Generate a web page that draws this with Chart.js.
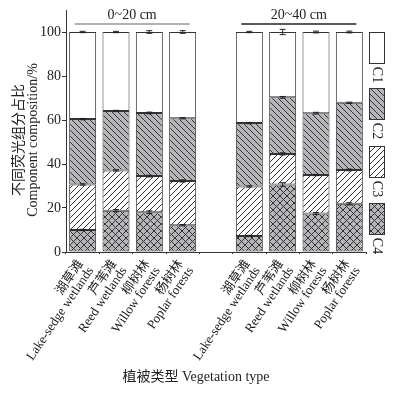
<!DOCTYPE html>
<html>
<head>
<meta charset="utf-8">
<script src="https://cdn.jsdelivr.net/npm/chart.js@4.4.0/dist/chart.umd.min.js"></script>
<style>
  html, body { margin: 0; padding: 0; background: #fff; }
</style>
</head>
<body>
<canvas id="chart" width="405" height="393"></canvas>
<script>
// ==============================
// DATA
// ==============================
const categories = [
  ["湖草滩", "Lake-sedge wetlands"],
  ["芦苇滩", "Reed wetlands"],
  ["柳树林", "Willow forests"],
  ["杨树林", "Poplar forests"],
  "",
  ["湖草滩", "Lake-sedge wetlands"],
  ["芦苇滩", "Reed wetlands"],
  ["柳树林", "Willow forests"],
  ["杨树林", "Poplar forests"]
];

const depthGroups = ["0~20 cm", "20~40 cm"];
const seriesNames = ["C1", "C2", "C3", "C4"];

// stacked from bottom: C4, C3, C2, C1 (%)
const c4 = [10.0, 18.8, 18.1, 12.2, null, 7.3, 30.7, 17.5, 21.9];
const c3 = [20.7, 18.3, 16.4, 20.1, null, 22.5, 13.9, 17.5, 15.4];
const c2 = [29.7, 27.0, 28.7, 28.5, null, 28.8, 25.7, 28.1, 30.5];
const c1 = [39.6, 35.9, 36.8, 39.2, null, 41.4, 29.7, 36.9, 32.2];

// standard errors at the top of each segment
const errC4 = [0.3, 0.5, 0.6, 0.3, null, 0.3, 0.8, 0.4, 0.5];
const errC3 = [0.3, 0.3, 0.4, 0.5, null, 0.3, 0.5, 0.3, 0.4];
const errC2 = [0.3, 0.3, 0.4, 0.3, null, 0.3, 0.4, 0.4, 0.3];
const errC1 = [0.3, 0.3, 0.6, 0.6, null, 0.3, 1.2, 0.4, 0.4];

const yTicks = [0, 20, 40, 60, 80, 100];

// ==============================
// PATTERNS
// ==============================
const GRAY = "#b7b5ba";
const INK = "#333";

function makePattern(bg, dirs, size) {
  const c = document.createElement("canvas");
  c.width = c.height = size;
  const g = c.getContext("2d");
  g.fillStyle = bg;
  g.fillRect(0, 0, size, size);
  g.strokeStyle = INK;
  g.lineWidth = 1;
  dirs.forEach(d => {
    g.beginPath();
    [-size, 0, size].forEach(k => {
      if (d === "back") { g.moveTo(k, 0); g.lineTo(k + size, size); }
      else { g.moveTo(k, size); g.lineTo(k + size, 0); }
    });
    g.stroke();
  });
  return c;
}

const ctx = document.getElementById("chart").getContext("2d");
const fills = {
  C1: "#fff",
  C2: ctx.createPattern(makePattern(GRAY, ["back"], 6), "repeat"),
  C3: ctx.createPattern(makePattern("#fff", ["fwd"], 6), "repeat"),
  C4: ctx.createPattern(makePattern(GRAY, ["back", "fwd"], 7), "repeat")
};

// ==============================
// PLUGINS
// ==============================
const errorBars = {
  id: "errorBars",
  afterDatasetsDraw(chart) {
    const y = chart.scales.y;
    const c = chart.ctx;
    c.save();
    c.strokeStyle = "#222";
    c.lineWidth = 1;
    chart.data.datasets.forEach((ds, d) => {
      const meta = chart.getDatasetMeta(d);
      meta.data.forEach((bar, i) => {
        if (ds.data[i] == null) return;
        let top = 0;
        for (let k = 0; k <= d; k++) top += chart.data.datasets[k].data[i];
        const e = ds.err[i];
        const yHi = y.getPixelForValue(top + e);
        const yLo = y.getPixelForValue(top - e);
        c.beginPath();
        c.moveTo(bar.x, yHi); c.lineTo(bar.x, yLo);
        c.moveTo(bar.x - 3, yHi); c.lineTo(bar.x + 3, yHi);
        c.moveTo(bar.x - 3, yLo); c.lineTo(bar.x + 3, yLo);
        c.stroke();
      });
    });
    c.restore();
  }
};

const decorations = {
  id: "decorations",
  afterDraw(chart) {
    const c = chart.ctx;
    const x = chart.scales.x;
    const area = chart.chartArea;
    c.save();
    c.fillStyle = "#222";
    c.textAlign = "center";
    c.textBaseline = "middle";

    // depth group headers
    c.font = "14px 'Liberation Serif', serif";
    [[0, 3, "#999"], [5, 8, "#222"]].forEach(([a, b, col], gi) => {
      const x0 = x.getPixelForValue(a) - 8;
      const x1 = x.getPixelForValue(b) + 7;
      c.fillText(depthGroups[gi], (x0 + x1) / 2, 15);
      c.strokeStyle = col;
      c.lineWidth = 1.5;
      c.beginPath(); c.moveTo(x0, 24); c.lineTo(x1, 24); c.stroke();
    });

    // y title
    c.save();
    c.translate(18, 140);
    c.rotate(-Math.PI / 2);
    c.font = "14px 'Noto Sans CJK SC', sans-serif";
    c.fillText("不同荧光组分占比", 0, 0);
    c.restore();
    c.save();
    c.translate(33, 140);
    c.rotate(-Math.PI / 2);
    c.font = "14px 'Liberation Serif', serif";
    c.fillText("Component composition/%", 0, 0);
    c.restore();

    // x title
    c.font = "14px 'Liberation Serif', 'Noto Sans CJK SC', serif";
    c.fillText("植被类型 Vegetation type", 196, 377);

    // legend
    const lx = area.right + 3;
    const boxes = [32, 88, 146, 203];
    seriesNames.forEach((name, i) => {
      c.fillStyle = fills[name];
      c.fillRect(lx, boxes[i], 15, 31);
      c.strokeStyle = INK;
      c.lineWidth = 1;
      c.strokeRect(lx + 0.5, boxes[i] + 0.5, 15, 31);
      c.save();
      c.translate(lx + 8, boxes[i] + 43);
      c.rotate(Math.PI / 2);
      c.fillStyle = "#222";
      c.font = "14px 'Liberation Serif', serif";
      c.fillText(name, 0, 0);
      c.restore();
    });
    c.restore();
  }
};

// ==============================
// CHART
// ==============================
Chart.defaults.font.family = "'Liberation Serif', 'Noto Sans CJK SC', serif";
Chart.defaults.color = "#222";

function ds(name, data, err) {
  return {
    label: name,
    data: data,
    err: err,
    backgroundColor: fills[name],
    borderColor: INK,
    borderWidth: 1,
    borderSkipped: false,
    barPercentage: 0.81,
    categoryPercentage: 1
  };
}

new Chart(ctx, {
  type: "bar",
  data: {
    labels: categories,
    datasets: [
      ds("C4", c4, errC4),
      ds("C3", c3, errC3),
      ds("C2", c2, errC2),
      ds("C1", c1, errC1)
    ]
  },
  options: {
    responsive: false,
    animation: false,
    layout: { padding: { top: 10, right: 39, left: 0, bottom: 0 } },
    plugins: { legend: { display: false }, tooltip: { enabled: false } },
    scales: {
      x: {
        stacked: true,
        afterFit(s) { s.height = 141; },
        grid: { drawOnChartArea: false, tickLength: 2, color: INK },
        border: { color: INK },
        ticks: {
          autoSkip: false,
          minRotation: 56,
          maxRotation: 56,
          padding: 4,
          labelOffset: -2,
          font: { size: 13, lineHeight: 0.95 },
          color: "#222"
        }
      },
      y: {
        stacked: true,
        min: 0,
        max: 110,
        afterFit(s) { s.width = 66; },
        afterBuildTicks(s) { s.ticks = yTicks.map(v => ({ value: v })); },
        grid: { drawOnChartArea: false, tickLength: 4, color: INK },
        border: { color: INK },
        ticks: { padding: 1, font: { size: 14 }, color: "#222" }
      }
    }
  },
  plugins: [errorBars, decorations]
});
</script>
</body>
</html>
